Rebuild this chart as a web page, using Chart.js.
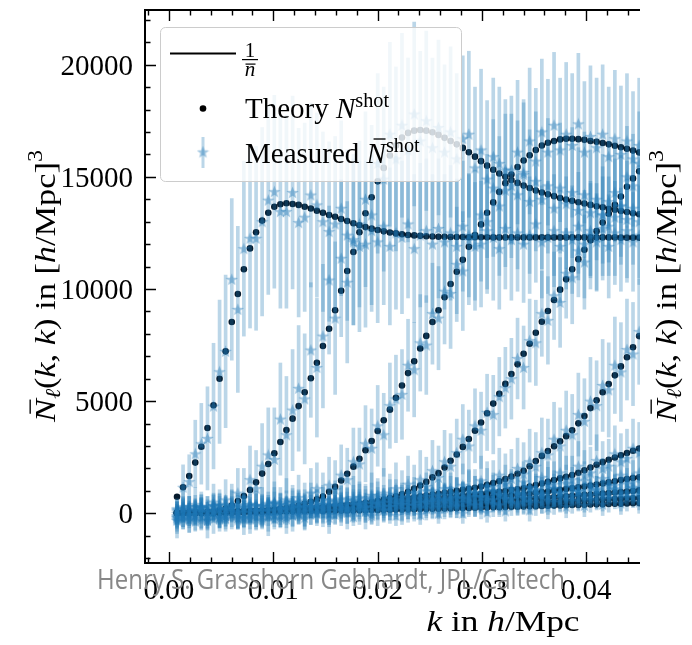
<!DOCTYPE html>
<html lang="en">
<head>
<meta charset="UTF-8">
<title>Shot noise N_l(k,k)</title>
<script src="https://cdn.jsdelivr.net/npm/chart.js"></script>
<style>
  html, body { margin: 0; padding: 0; background: #fff; }
  canvas { display: block; }
</style>
</head>
<body>
<canvas id="chart" width="692" height="645"></canvas>
<script>
// k bins (h/Mpc)
const K = [
  0.00077,0.00135,0.00194,0.00252,0.00310,0.00369,0.00427,0.00485,0.00543,0.00602,0.00660,
  0.00718,0.00777,0.00835,0.00893,0.00952,0.01010,0.01068,0.01126,0.01185,0.01243,0.01301,
  0.01360,0.01418,0.01476,0.01535,0.01593,0.01651,0.01709,0.01768,0.01826,0.01884,0.01943,
  0.02001,0.02059,0.02118,0.02176,0.02234,0.02292,0.02351,0.02409,0.02467,0.02526,0.02584,
  0.02642,0.02700,0.02759,0.02817,0.02875,0.02934,0.02992,0.03050,0.03109,0.03167,0.03225,
  0.03283,0.03342,0.03400,0.03458,0.03517,0.03575,0.03633,0.03692,0.03750,0.03808,0.03866,
  0.03925,0.03983,0.04041,0.04100,0.04158,0.04216,0.04275,0.04333,0.04391,0.04449,0.04508];

// theory N^shot, one array per multipole
const T1 = [
  740,1160,1660,2260,2970,3800,4820,6000,7220,8530,9780,
  10880,11810,12530,13050,13400,13670,13780,13820,13790,13750,13670,
  13590,13490,13400,13300,13220,13120,13030,12930,12840,12760,12690,
  12630,12570,12520,12480,12440,12410,12390,12370,12350,12340,12330,
  12330,12320,12320,12320,12310,12310,12310,12310,12300,12300,12300,
  12300,12300,12300,12300,12300,12300,12300,12300,12300,12300,12300,
  12300,12300,12300,12300,12300,12300,12300,12290,12290,12290,12290];
const T2 = [
  4,8,14,24,38,58,80,130,210,350,545,
  770,1040,1380,1770,2200,2680,3180,3710,4220,4780,5400,
  6020,6710,7460,8230,9050,9920,10800,11650,12530,13380,14090,
  14800,15400,15950,16400,16750,16960,17060,17090,17060,16990,16870,
  16740,16600,16450,16290,16100,15900,15700,15500,15320,15150,15000,
  14860,14730,14610,14500,14390,14300,14220,14140,14060,13990,13930,
  13870,13810,13750,13690,13640,13580,13530,13480,13430,13380,13330];
const T3 = [
  2,3,4,6,8,11,15,20,26,34,43,
  54,68,85,105,130,160,195,235,285,345,420,
  510,620,750,960,1180,1460,1760,2080,2430,2810,3220,
  3670,4150,4620,5150,5700,6250,6780,7350,7910,8530,9050,
  9630,10220,10770,11300,11880,12400,12880,13400,13860,14330,14720,
  15100,15440,15730,15960,16200,16400,16520,16600,16670,16700,16700,
  16680,16650,16600,16560,16510,16450,16390,16320,16250,16170,16090];
const T4 = [
  1,2,3,5,7,9,12,15,19,24,30,
  36,43,51,60,70,81,94,108,123,140,158,
  178,200,224,250,278,308,340,375,412,452,495,
  545,610,680,760,850,960,1100,1240,1400,1600,1790,
  2040,2340,2620,2960,3310,3680,4050,4460,4890,5330,5770,
  6210,6640,7110,7560,8050,8540,9020,9510,9970,10430,10880,
  11330,11750,12170,12580,12960,13360,13750,14120,14560,14930,15250];
const T5 = [
  10,15,20,26,32,38,45,52,60,68,77,
  86,96,107,118,130,143,157,172,188,205,223,
  242,262,283,305,328,352,377,403,430,458,487,
  517,548,580,613,647,682,718,755,793,832,872,
  913,955,998,1042,1090,1140,1190,1270,1350,1430,1530,
  1640,1760,1900,2100,2330,2560,2780,2990,3210,3440,3700,
  4010,4340,4690,5040,5400,5760,6150,6550,6960,7400,7900];
const T6 = [
  15,20,26,32,38,44,50,57,64,71,79,
  87,95,104,113,123,133,144,155,167,179,192,
  205,219,233,248,263,279,295,312,329,347,365,
  400,425,450,475,500,530,560,590,620,650,675,
  700,730,760,790,815,840,865,890,925,960,995,
  1035,1075,1120,1190,1260,1330,1400,1480,1555,1630,1710,
  1810,1920,2040,2160,2280,2390,2490,2590,2690,2790,2890];
const T7 = [
  20,25,30,36,42,48,55,62,69,77,85,
  93,102,111,121,131,142,153,165,177,190,203,
  217,231,246,261,277,293,310,327,345,363,382,
  401,420,439,458,477,496,515,533,550,566,580,
  590,600,615,635,655,675,695,715,735,757,780,
  805,830,858,885,915,945,975,1010,1045,1080,1115,
  1155,1195,1240,1285,1330,1380,1430,1480,1530,1575,1610];
const T8 = [
  25,29,33,38,43,48,54,60,66,72,79,
  86,93,100,108,116,124,133,142,151,160,170,
  180,190,200,211,222,233,244,256,268,280,292,
  304,317,330,343,356,369,382,395,408,421,434,
  447,460,474,488,502,516,530,545,560,575,590,
  606,622,638,655,672,689,707,725,743,762,781,
  800,820,840,861,882,904,926,949,972,996,1020];
const T9 = [
  30,33,36,40,44,48,52,56,60,65,70,
  75,80,85,90,96,102,108,114,120,126,133,
  140,147,154,161,168,176,184,192,200,208,216,
  224,232,241,250,259,268,277,286,295,304,313,
  322,332,342,352,362,372,382,392,402,413,424,
  435,446,457,468,480,492,504,516,528,540,552,
  564,576,588,600,612,624,636,648,660,672,684];
const T10 = [
  35,37,39,41,43,45,47,49,52,55,58,
  61,64,67,70,73,76,79,83,87,91,95,
  99,103,107,111,115,120,125,130,135,140,145,
  150,155,160,165,171,177,183,189,195,201,207,
  213,219,225,232,239,246,253,260,267,274,281,
  288,295,303,311,319,327,335,343,351,359,367,
  375,383,391,399,407,415,423,431,439,447,455];

// measured N^shot (stars)
const M1 = [
  -300,1160,1410,2650,3100,3340,4780,6310,7220,10430,9090,
  11800,12260,12260,13000,13960,14340,13450,13450,14300,12960,13200,
  14190,13750,13000,12560,12900,13600,12400,12200,12900,12000,12600,
  12100,12800,11900,12500,12300,12900,11800,12400,12600,12000,12700,
  12100,12500,11900,12800,12200,12400,12000,12600,12300,11800,12700,
  12200,12500,12000,12400,12900,12100,12300,12600,11900,12500,12200,
  12800,12000,12400,12300,12700,11900,12500,12200,12600,12100,12400];
const M2 = [
  -200,300,-150,400,100,-300,500,200,600,300,900,
  700,1500,1100,2100,2600,2400,4200,3500,4600,5570,5100,
  7280,6500,7900,10400,8700,11370,10300,12100,11900,14000,13300,
  15600,14900,16900,15800,17300,16200,17800,16600,17500,16300,17200,
  16100,17000,15800,16700,16900,15400,16200,14900,15900,15600,14400,
  15300,14200,15100,13900,14800,14000,14600,13600,14500,13800,14300,
  13500,14200,13400,14000,13300,13900,13200,13700,13100,13600,13000];
const M3 = [
  0,-100,150,-200,300,100,-250,200,-100,350,50,
  -200,400,100,300,-150,500,250,600,150,700,300,
  900,1100,600,1250,1050,1700,1500,2300,2200,3100,2900,
  3900,3500,4800,5100,5300,6600,6400,7600,7500,8900,8700,
  9900,9800,11100,10800,12400,11900,13300,13000,14500,13700,15300,
  14600,16100,15200,16600,15700,17000,16100,17300,16200,16900,16400,
  17360,16100,16800,16300,16900,15900,16700,16000,16600,15800,16400];
const M4 = [
  -150,200,-300,100,250,-100,300,-200,150,400,-50,
  250,-250,350,100,-100,450,200,-150,500,300,100,
  550,250,400,-50,600,350,200,700,450,300,800,
  500,900,650,1100,700,1300,900,1500,1200,1900,1600,
  2300,2100,2700,3300,3000,3900,3700,4500,4400,5200,5600,
  6000,6900,6500,7700,7600,8900,8600,9700,9400,10700,10500,
  11700,11200,12600,12100,13300,12800,14300,13700,15000,14600,15600];
const M5 = [
  -200,250,-100,150,-300,300,50,-150,350,100,-200,
  300,0,-250,350,150,-100,400,200,-50,450,250,
  50,500,300,100,550,350,150,600,400,250,700,
  450,300,800,550,400,900,650,500,1000,750,600,
  1100,800,700,1250,950,900,1450,1150,1200,1700,1400,
  1550,2000,1750,2300,2100,2700,2600,3300,3000,3700,3500,
  4400,4100,5000,4800,5700,5500,6600,6300,7300,7100,8100];
const M6 = [
  200,-150,300,-100,250,-200,350,0,-250,300,100,
  -150,400,150,-200,450,100,-100,500,250,0,550,
  300,50,600,350,100,650,400,150,700,450,250,
  800,500,300,850,600,400,950,700,500,1000,800,
  550,1100,850,650,1150,900,750,1200,1000,850,1300,
  1100,900,1400,1150,1050,1600,1350,1300,1800,1500,1500,
  2100,1700,1800,2350,2000,2100,2650,2300,2450,2900,2700];
const M7 = [
  -300,150,-50,300,-200,100,350,-150,200,-100,400,
  50,-200,350,150,-50,450,200,0,500,250,-50,
  450,300,100,550,350,150,600,400,200,650,450,
  250,700,500,300,750,550,350,800,600,400,850,
  650,450,900,700,500,950,750,600,1000,850,650,
  1100,900,700,1150,1000,800,1250,1100,900,1350,1200,
  1000,1450,1300,1100,1550,1400,1250,1700,1550,1400,1800];
const M8 = [
  100,-250,300,-50,200,-300,150,400,-100,250,-200,
  350,50,-150,300,100,-250,400,200,-100,450,150,
  -50,400,250,0,500,300,50,550,350,100,600,
  400,150,650,450,200,700,500,250,750,550,300,
  800,600,350,850,650,400,900,700,450,950,750,
  500,1000,800,550,1050,850,600,1100,900,650,1150,
  950,700,1200,1000,750,1250,1050,800,1300,1100,850];
const M9 = [
  -100,200,-250,150,300,-150,50,350,-200,250,0,
  -250,300,100,-100,400,150,-200,350,250,-50,450,
  200,0,400,300,-50,450,250,100,500,300,0,
  550,350,150,600,400,100,600,450,200,650,500,
  250,700,500,300,750,550,250,700,600,350,800,
  650,400,850,700,450,900,750,500,950,800,550,
  1000,850,600,1050,900,650,1100,950,700,1150,1000];
const M10 = [
  150,-200,50,-350,250,-100,100,-250,200,0,-300,
  250,-100,100,-300,300,-50,150,-250,350,50,-200,
  300,0,200,-200,400,50,250,-150,400,100,-100,
  450,150,300,-100,500,200,350,-50,500,250,0,
  550,300,400,0,600,350,450,50,600,400,100,
  650,450,500,150,700,500,250,700,550,300,750,
  600,350,800,650,400,850,700,450,900,750,500];

// half length of the error bars
const E1 = [
  800,1000,1200,1500,1800,2300,2800,3200,3400,3600,3700,
  3900,4000,4100,4200,4200,4300,4300,4300,4300,4200,4200,
  4100,4100,4000,4000,3900,3900,3800,3800,3700,3700,3600,
  3600,3500,3500,3400,3400,3300,3300,3200,3200,3100,3100,
  3000,3000,3000,2900,2900,2900,2800,2800,2800,2700,2700,
  2700,2600,2600,2600,2600,2500,2500,2500,2500,2500,2400,
  2400,2400,2400,2400,2300,2300,2300,2300,2300,2200,2200];
const E2 = [
  700,700,700,750,750,800,800,850,900,1000,1100,
  1300,1500,1700,1900,2100,2300,2500,2600,2700,2800,2900,
  3000,3100,3200,3300,3400,3500,3600,3700,3800,3900,4000,
  4000,4100,4100,4100,4100,4100,4100,4000,4000,4000,3900,
  3900,3800,3800,3700,3700,3600,3600,3500,3500,3400,3400,
  3300,3300,3200,3200,3100,3100,3000,3000,2900,2900,2900,
  2800,2800,2800,2700,2700,2700,2600,2600,2600,2500,2500];
const E3 = [
  600,600,600,600,650,650,650,700,700,700,750,
  750,800,800,850,850,900,900,950,950,1000,1050,
  1100,1150,1200,1250,1300,1350,1400,1500,1600,1700,1750,
  1800,1850,1900,1950,2000,2050,2100,2150,2200,2250,2300,
  2350,2450,2550,2650,2750,2850,2950,3000,3050,3100,3150,
  3200,3200,3250,3250,3250,3250,3250,3250,3200,3200,3200,
  3150,3150,3150,3100,3100,3100,3050,3050,3000,3000,3000];
const E4 = [
  550,550,550,550,550,600,600,600,600,600,650,
  650,650,650,700,700,700,700,750,750,750,800,
  800,800,850,850,850,900,900,950,950,1000,1000,
  1050,1100,1100,1150,1200,1250,1250,1300,1300,1350,1400,
  1400,1450,1500,1550,1600,1650,1700,1700,1750,1750,1800,
  1800,1800,1850,1850,1900,1900,1950,1950,2000,2000,2050,
  2050,2100,2100,2150,2150,2200,2200,2250,2250,2300,2300];
const E5 = [
  450,450,450,450,450,450,450,450,450,450,450,
  450,450,500,500,500,500,500,500,550,550,550,
  550,550,550,600,600,600,600,650,650,650,650,
  700,700,700,700,750,750,750,750,800,800,800,
  850,850,900,950,1000,1050,1100,1150,1150,1200,1250,
  1300,1350,1400,1450,1500,1550,1600,1650,1700,1750,1800,
  1850,1900,1950,2000,2050,2100,2150,2200,2250,2300,2350];
const E6 = [
  450,450,450,450,450,450,450,450,450,450,450,
  450,450,450,450,500,500,500,500,500,500,500,
  500,500,550,550,550,550,550,550,600,600,600,
  600,600,600,650,650,650,650,650,700,700,700,
  700,700,750,750,750,750,800,800,800,800,850,
  850,850,900,900,900,950,950,1000,1000,1050,1050,
  1100,1100,1150,1150,1200,1200,1250,1250,1300,1300,1350];
const E7 = [
  500,500,500,500,500,500,500,500,500,500,500,
  500,500,500,500,500,500,500,500,500,500,500,
  500,500,500,550,550,550,550,550,550,550,550,
  550,550,600,600,600,600,600,600,600,650,650,
  650,650,650,650,650,700,700,700,700,700,700,
  750,750,750,750,750,800,800,800,800,800,850,
  850,850,850,900,900,900,900,950,950,950,950];
const E8 = [
  450,450,450,450,450,450,450,450,450,450,450,
  450,450,450,450,450,450,450,450,450,450,450,
  450,450,450,500,500,500,500,500,500,500,500,
  500,500,500,500,500,550,550,550,550,550,550,
  550,550,550,550,550,550,600,600,600,600,600,
  600,600,600,600,600,600,650,650,650,650,650,
  650,650,650,650,650,650,700,700,700,700,700];
const E9 = [
  400,400,400,400,400,400,400,400,400,400,400,
  400,400,400,400,400,400,400,400,400,400,400,
  400,400,450,450,450,450,450,450,450,450,450,
  450,450,450,450,450,500,500,500,500,500,500,
  500,500,500,500,500,500,500,500,500,500,500,
  500,500,550,550,550,550,550,550,550,550,550,
  550,550,550,600,600,600,600,600,600,600,600];
const E10 = [
  400,400,400,400,400,400,400,400,400,400,400,
  400,400,400,400,400,400,400,400,400,400,400,
  400,400,400,400,400,400,400,400,400,400,400,
  450,450,450,450,450,450,450,450,450,450,450,
  450,450,450,450,450,450,450,450,450,450,450,
  500,500,500,500,500,500,500,500,500,500,500,
  500,500,500,500,500,500,500,500,500,500,500];

const NBAR_INV = 50;   // 1/nbar level
const K_LINE = [0.0006, 0.005];

const xMajor = [0, 0.01, 0.02, 0.03, 0.04];
const xLabels = ['0.00', '0.01', '0.02', '0.03', '0.04'];
const xMinor = [-0.002, 0.002, 0.004, 0.006, 0.008, 0.012, 0.014, 0.016, 0.018, 0.022,
                0.024, 0.026, 0.028, 0.032, 0.034, 0.036, 0.038, 0.042, 0.044];
const yMajor = [0, 5000, 10000, 15000, 20000];
const yLabels = ['0', '5000', '10000', '15000', '20000'];
const yMinor = [-2000, -1000, 1000, 2000, 3000, 4000, 6000, 7000, 8000, 9000, 11000,
                12000, 13000, 14000, 16000, 17000, 18000, 19000, 21000, 22000];

const theory = [T1, T2, T3, T4, T5, T6, T7, T8, T9, T10];
const measured = [M1, M2, M3, M4, M5, M6, M7, M8, M9, M10];
const errors = [E1, E2, E3, E4, E5, E6, E7, E8, E9, E10];

const BLUE_A = 'rgba(31,119,180,0.3)';
const DOT = '#061a2c';
const SERIF = '"Liberation Serif", "DejaVu Serif", serif';

const dots = [], bars = [], stars = [];
theory.forEach((T, c) => {
  K.forEach((k, i) => {
    dots.push({ x: k, y: T[i] });
    const m = measured[c][i], e = errors[c][i];
    bars.push({ x: k, y: [m - e, m + e] });
    stars.push({ x: k, y: m });
  });
});

function starImage(size, color) {
  const c = document.createElement('canvas');
  c.width = c.height = size;
  const g = c.getContext('2d');
  const r = size / 2, ri = r * 0.42;
  g.beginPath();
  for (let j = 0; j < 10; j++) {
    const a = -Math.PI / 2 + j * Math.PI / 5;
    const rr = j % 2 ? ri : r;
    g.lineTo(r + rr * Math.cos(a), r * 1.08 + rr * Math.sin(a));
  }
  g.closePath();
  g.fillStyle = color;
  g.fill();
  return c;
}
const STAR = starImage(13, 'rgba(31,119,180,0.42)');

// rich text: runs of {t, i (italic), s (size factor), dy (em shift), bar}
function fnt(size, it) { return (it ? 'italic ' : '') + size + 'px ' + SERIF; }
function drawRuns(ctx, runs, size, x, y, align, fitW) {
  let w = 0;
  runs.forEach(r => { ctx.font = fnt(size * (r.s || 1), r.i); r.w = ctx.measureText(r.t).width; w += r.w; });
  const sx = fitW ? fitW / w : 1;
  ctx.save();
  ctx.translate(x, y);
  ctx.scale(sx, 1);
  ctx.textAlign = 'left';
  ctx.textBaseline = 'alphabetic';
  let cx = align === 'center' ? -w / 2 : (align === 'right' ? -w : 0);
  runs.forEach(r => {
    const fs = size * (r.s || 1);
    const dy = (r.dy || 0) * size;
    ctx.font = fnt(fs, r.i);
    ctx.fillText(r.t, cx, dy);
    if (r.bar) ctx.fillRect(cx + fs * 0.24, dy - fs * 0.85, r.w * 0.62, Math.max(1.2, fs * 0.045));
    cx += r.w;
  });
  ctx.restore();
}

const yTitle = [
  { t: 'N', i: 1, bar: 1 }, { t: 'ℓ', i: 1, s: 0.7, dy: 0.16 }, { t: '(' }, { t: 'k', i: 1 },
  { t: ', ' }, { t: 'k', i: 1 }, { t: ') in [' }, { t: 'h', i: 1 }, { t: '/Mpc]' },
  { t: '3', s: 0.7, dy: -0.42 }
];

const framePlugin = {
  id: 'frame',
  afterDraw(chart) {
    const ctx = chart.ctx;
    const a = chart.chartArea;
    const xs = chart.scales.x, ys = chart.scales.y;
    ctx.save();
    ctx.strokeStyle = '#000';
    ctx.fillStyle = '#000';

    // spines (right side is cut off in the original)
    ctx.lineWidth = 2;
    ctx.beginPath();
    ctx.moveTo(a.right, a.top); ctx.lineTo(a.left, a.top);
    ctx.lineTo(a.left, a.bottom); ctx.lineTo(a.right, a.bottom);
    ctx.stroke();

    // inward ticks
    ctx.lineWidth = 1.4;
    ctx.beginPath();
    const xt = (v, len) => {
      const p = Math.round(xs.getPixelForValue(v)) + 0.5;
      if (p < a.left || p > a.right) return;
      ctx.moveTo(p, a.bottom); ctx.lineTo(p, a.bottom - len);
      ctx.moveTo(p, a.top); ctx.lineTo(p, a.top + len);
    };
    const yt = (v, len) => {
      const p = Math.round(ys.getPixelForValue(v)) + 0.5;
      ctx.moveTo(a.left, p); ctx.lineTo(a.left + len, p);
    };
    xMajor.forEach(v => xt(v, 11));
    xMinor.forEach(v => xt(v, 5.5));
    yMajor.forEach(v => yt(v, 11));
    yMinor.forEach(v => yt(v, 5.5));
    ctx.stroke();

    // tick labels
    ctx.font = '29px ' + SERIF;
    ctx.textBaseline = 'alphabetic';
    ctx.textAlign = 'center';
    xMajor.forEach((v, i) => ctx.fillText(xLabels[i], xs.getPixelForValue(v), 599));
    ctx.textAlign = 'right';
    yMajor.forEach((v, i) => ctx.fillText(yLabels[i], 133, ys.getPixelForValue(v) + 10));

    // axis titles
    drawRuns(ctx, [{ t: 'k', i: 1 }, { t: ' in ' }, { t: 'h', i: 1 }, { t: '/Mpc' }], 29, 503, 631, 'center', 153);
    ctx.save();
    ctx.translate(55, 286);
    ctx.rotate(-Math.PI / 2);
    drawRuns(ctx, yTitle, 30, 0, 0, 'center', 272);
    ctx.restore();
    // label of the neighbouring panel, visible at the right edge
    ctx.save();
    ctx.translate(676, 286);
    ctx.rotate(-Math.PI / 2);
    drawRuns(ctx, yTitle, 30, 0, 0, 'center', 272);
    ctx.restore();

    // legend
    ctx.beginPath();
    ctx.roundRect(160.5, 27.5, 301, 154, 5);
    ctx.fillStyle = 'rgba(255,255,255,0.8)';
    ctx.fill();
    ctx.strokeStyle = '#cccccc';
    ctx.lineWidth = 1;
    ctx.stroke();

    ctx.fillStyle = '#000';
    ctx.strokeStyle = '#000';
    ctx.lineWidth = 2.2;
    ctx.beginPath();
    ctx.moveTo(170, 53.5); ctx.lineTo(236, 53.5);
    ctx.stroke();
    ctx.textAlign = 'center';
    ctx.font = '21px ' + SERIF;
    ctx.fillText('1', 250, 57);
    ctx.fillRect(242, 59, 16, 1.2);
    ctx.font = 'italic 21px ' + SERIF;
    ctx.fillText('n', 250, 76);
    ctx.fillRect(245.5, 63.5, 10, 1.2);

    ctx.beginPath();
    ctx.arc(203, 108.5, 3.3, 0, Math.PI * 2);
    ctx.fill();
    drawRuns(ctx, [{ t: 'Theory ' }, { t: 'N', i: 1 }, { t: 'shot', s: 0.7, dy: -0.38 }], 29, 245, 118, 'left');

    ctx.fillStyle = BLUE_A;
    ctx.fillRect(201.5, 137, 3, 31);
    ctx.drawImage(STAR, 203 - 6.5, 152 - 6.5);
    ctx.fillStyle = '#000';
    drawRuns(ctx, [{ t: 'Measured ' }, { t: 'N', i: 1, bar: 1 }, { t: 'shot', s: 0.7, dy: -0.38 }], 29, 245, 163, 'left');

    // watermark
    const wm = 'Henry S. Grasshorn Gebhardt, JPL/Caltech';
    ctx.font = '28px "Open Sans", "Noto Sans", sans-serif';
    ctx.textAlign = 'left';
    const ww = ctx.measureText(wm).width;
    ctx.translate(97, 589);
    ctx.scale(468 / ww, 1);
    ctx.fillStyle = 'rgb(135,135,135)';
    ctx.fillText(wm, 0, 0);
    ctx.restore();
  }
};

new Chart(document.getElementById('chart'), {
  type: 'scatter',
  data: {
    datasets: [
      {
        type: 'line',
        label: '1/nbar',
        data: K_LINE.map(k => ({ x: k, y: NBAR_INV })),
        borderColor: '#000',
        borderWidth: 2.2,
        pointRadius: 0,
        order: 4
      },
      {
        label: 'Theory',
        data: dots,
        pointRadius: 3.3,
        pointBackgroundColor: DOT,
        pointBorderWidth: 0,
        order: 3
      },
      {
        type: 'bar',
        label: 'Measured errors',
        data: bars,
        backgroundColor: BLUE_A,
        borderWidth: 0,
        barThickness: 3,
        grouped: false,
        order: 2
      },
      {
        label: 'Measured',
        data: stars,
        pointStyle: STAR,
        pointRadius: 6,
        order: 1
      }
    ]
  },
  options: {
    responsive: false,
    devicePixelRatio: 1,
    animation: false,
    events: [],
    layout: { padding: { left: 145, right: 52, top: 10, bottom: 82 } },
    plugins: { legend: { display: false }, tooltip: { enabled: false } },
    scales: {
      x: { type: 'linear', min: -0.0023, max: 0.04516, display: false, offset: false },
      y: { type: 'linear', min: -2216, max: 22439, display: false }
    }
  },
  plugins: [framePlugin]
});
</script>
</body>
</html>
